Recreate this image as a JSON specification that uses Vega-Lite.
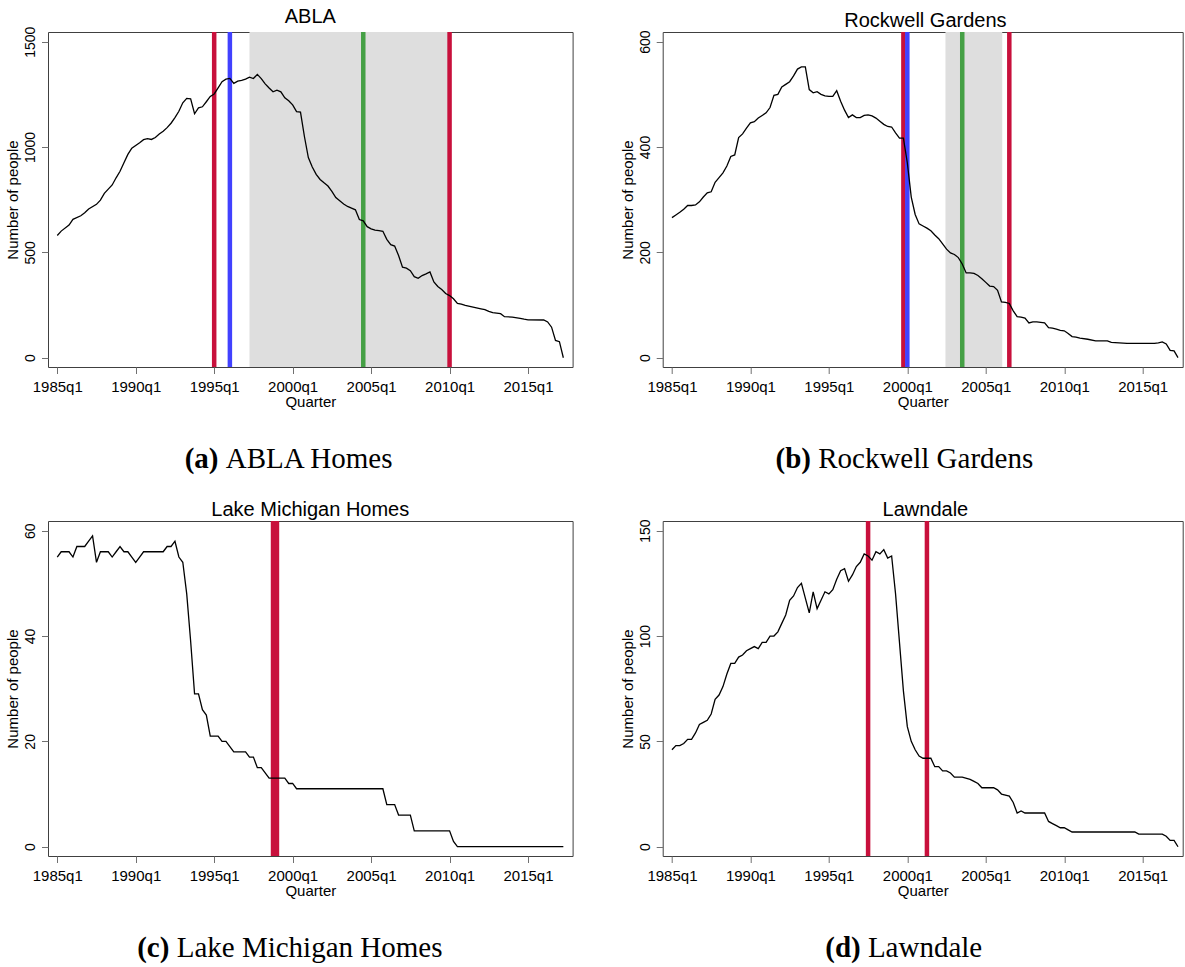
{
  "$schema": "https://vega.github.io/schema/vega-lite/v6.json",
  "background": "white",
  "padding": {"left": 5, "top": 6, "right": 0, "bottom": 0},
  "datasets": {
    "abla": [
      {"q": 1985.0, "n": 580}, {"q": 1985.25, "n": 601}, {"q": 1985.75, "n": 630}, {"q": 1986.0, "n": 657},
      {"q": 1986.5, "n": 674}, {"q": 1986.75, "n": 688}, {"q": 1987.0, "n": 706}, {"q": 1987.5, "n": 728},
      {"q": 1987.75, "n": 748}, {"q": 1988.0, "n": 780}, {"q": 1988.25, "n": 800}, {"q": 1988.5, "n": 820},
      {"q": 1988.75, "n": 854}, {"q": 1989.0, "n": 885}, {"q": 1989.25, "n": 925}, {"q": 1989.5, "n": 965},
      {"q": 1989.75, "n": 995}, {"q": 1990.25, "n": 1020}, {"q": 1990.5, "n": 1035}, {"q": 1990.75, "n": 1040},
      {"q": 1991.0, "n": 1036}, {"q": 1991.25, "n": 1045}, {"q": 1991.5, "n": 1062}, {"q": 1991.75, "n": 1075},
      {"q": 1992.0, "n": 1092}, {"q": 1992.25, "n": 1113}, {"q": 1992.5, "n": 1140}, {"q": 1992.75, "n": 1170},
      {"q": 1993.0, "n": 1210}, {"q": 1993.25, "n": 1231}, {"q": 1993.5, "n": 1229}, {"q": 1993.75, "n": 1158},
      {"q": 1994.0, "n": 1186}, {"q": 1994.25, "n": 1191}, {"q": 1994.5, "n": 1215}, {"q": 1994.75, "n": 1240},
      {"q": 1995.0, "n": 1252}, {"q": 1995.25, "n": 1281}, {"q": 1995.5, "n": 1310}, {"q": 1995.75, "n": 1322},
      {"q": 1996.0, "n": 1326}, {"q": 1996.25, "n": 1302}, {"q": 1996.5, "n": 1313}, {"q": 1996.75, "n": 1316},
      {"q": 1997.0, "n": 1322}, {"q": 1997.25, "n": 1332}, {"q": 1997.5, "n": 1325}, {"q": 1997.75, "n": 1345},
      {"q": 1998.0, "n": 1325}, {"q": 1998.25, "n": 1300}, {"q": 1998.5, "n": 1280}, {"q": 1998.75, "n": 1262},
      {"q": 1999.0, "n": 1270}, {"q": 1999.25, "n": 1262}, {"q": 1999.5, "n": 1234}, {"q": 1999.75, "n": 1220},
      {"q": 2000.0, "n": 1200}, {"q": 2000.25, "n": 1168}, {"q": 2000.5, "n": 1166}, {"q": 2000.75, "n": 1050},
      {"q": 2001.0, "n": 950}, {"q": 2001.25, "n": 905}, {"q": 2001.5, "n": 870}, {"q": 2001.75, "n": 846},
      {"q": 2002.0, "n": 830}, {"q": 2002.25, "n": 815}, {"q": 2002.5, "n": 790}, {"q": 2002.75, "n": 760},
      {"q": 2003.0, "n": 745}, {"q": 2003.25, "n": 730}, {"q": 2003.5, "n": 718}, {"q": 2003.75, "n": 710},
      {"q": 2004.0, "n": 702}, {"q": 2004.25, "n": 656}, {"q": 2004.5, "n": 650}, {"q": 2004.75, "n": 622},
      {"q": 2005.0, "n": 612}, {"q": 2005.25, "n": 606}, {"q": 2005.5, "n": 603}, {"q": 2005.75, "n": 600},
      {"q": 2006.0, "n": 562}, {"q": 2006.25, "n": 537}, {"q": 2006.5, "n": 530}, {"q": 2006.75, "n": 485},
      {"q": 2007.0, "n": 430}, {"q": 2007.25, "n": 425}, {"q": 2007.5, "n": 413}, {"q": 2007.75, "n": 385},
      {"q": 2008.0, "n": 377}, {"q": 2008.25, "n": 390}, {"q": 2008.5, "n": 398}, {"q": 2008.75, "n": 407},
      {"q": 2009.0, "n": 360}, {"q": 2009.25, "n": 338}, {"q": 2009.5, "n": 324}, {"q": 2009.75, "n": 305},
      {"q": 2010.0, "n": 295}, {"q": 2010.25, "n": 280}, {"q": 2010.5, "n": 258}, {"q": 2010.75, "n": 254},
      {"q": 2011.0, "n": 248}, {"q": 2011.5, "n": 240}, {"q": 2012.0, "n": 232}, {"q": 2012.25, "n": 228},
      {"q": 2012.5, "n": 220}, {"q": 2012.75, "n": 214}, {"q": 2013.0, "n": 212}, {"q": 2013.25, "n": 209},
      {"q": 2013.5, "n": 195}, {"q": 2014.0, "n": 193}, {"q": 2014.5, "n": 187}, {"q": 2014.75, "n": 183},
      {"q": 2015.0, "n": 180}, {"q": 2016.0, "n": 179}, {"q": 2016.25, "n": 170}, {"q": 2016.5, "n": 145},
      {"q": 2016.75, "n": 82}, {"q": 2017.0, "n": 76}, {"q": 2017.25, "n": 0}
    ],
    "ablaEvents": [
      {"q": 1995.0, "event": "red"}, {"q": 1996.0, "event": "blue"},
      {"q": 2004.5, "event": "green"}, {"q": 2010.0, "event": "red"}
    ],
    "ablaBand": [{"q": 1997.25, "q2": 2010.0}],
    "rockwell": [
      {"q": 1985.0, "n": 266}, {"q": 1985.25, "n": 271}, {"q": 1985.5, "n": 276}, {"q": 1985.75, "n": 282},
      {"q": 1986.0, "n": 289}, {"q": 1986.25, "n": 289}, {"q": 1986.5, "n": 290}, {"q": 1986.75, "n": 296},
      {"q": 1987.0, "n": 305}, {"q": 1987.25, "n": 313}, {"q": 1987.5, "n": 315}, {"q": 1987.75, "n": 333},
      {"q": 1988.0, "n": 342}, {"q": 1988.25, "n": 351}, {"q": 1988.5, "n": 364}, {"q": 1988.75, "n": 382},
      {"q": 1989.0, "n": 385}, {"q": 1989.25, "n": 418}, {"q": 1989.5, "n": 425}, {"q": 1989.75, "n": 436},
      {"q": 1990.0, "n": 446}, {"q": 1990.25, "n": 448}, {"q": 1990.5, "n": 455}, {"q": 1990.75, "n": 460},
      {"q": 1991.0, "n": 465}, {"q": 1991.25, "n": 475}, {"q": 1991.5, "n": 498}, {"q": 1991.75, "n": 500},
      {"q": 1992.0, "n": 514}, {"q": 1992.25, "n": 519}, {"q": 1992.5, "n": 524}, {"q": 1992.75, "n": 535},
      {"q": 1993.0, "n": 548}, {"q": 1993.25, "n": 552}, {"q": 1993.5, "n": 552}, {"q": 1993.75, "n": 509},
      {"q": 1994.0, "n": 503}, {"q": 1994.25, "n": 505}, {"q": 1994.5, "n": 500}, {"q": 1994.75, "n": 497},
      {"q": 1995.0, "n": 496}, {"q": 1995.25, "n": 496}, {"q": 1995.5, "n": 507}, {"q": 1995.75, "n": 487},
      {"q": 1996.0, "n": 470}, {"q": 1996.25, "n": 456}, {"q": 1996.5, "n": 461}, {"q": 1996.75, "n": 456},
      {"q": 1997.0, "n": 456}, {"q": 1997.25, "n": 460}, {"q": 1997.5, "n": 461}, {"q": 1997.75, "n": 459},
      {"q": 1998.0, "n": 455}, {"q": 1998.25, "n": 449}, {"q": 1998.5, "n": 443}, {"q": 1998.75, "n": 439},
      {"q": 1999.0, "n": 438}, {"q": 1999.25, "n": 427}, {"q": 1999.5, "n": 417}, {"q": 1999.75, "n": 417},
      {"q": 2000.0, "n": 370}, {"q": 2000.25, "n": 305}, {"q": 2000.5, "n": 272}, {"q": 2000.75, "n": 254},
      {"q": 2001.0, "n": 250}, {"q": 2001.25, "n": 246}, {"q": 2001.5, "n": 241}, {"q": 2001.75, "n": 233},
      {"q": 2002.0, "n": 226}, {"q": 2002.25, "n": 216}, {"q": 2002.5, "n": 206}, {"q": 2002.75, "n": 199},
      {"q": 2003.0, "n": 196}, {"q": 2003.25, "n": 190}, {"q": 2003.5, "n": 178}, {"q": 2003.75, "n": 161},
      {"q": 2004.0, "n": 161}, {"q": 2004.25, "n": 160}, {"q": 2004.5, "n": 156}, {"q": 2004.75, "n": 150},
      {"q": 2005.0, "n": 143}, {"q": 2005.25, "n": 136}, {"q": 2005.5, "n": 135}, {"q": 2005.75, "n": 128},
      {"q": 2006.0, "n": 106}, {"q": 2006.25, "n": 105}, {"q": 2006.5, "n": 103}, {"q": 2006.75, "n": 89},
      {"q": 2007.0, "n": 78}, {"q": 2007.25, "n": 77}, {"q": 2007.5, "n": 75}, {"q": 2007.75, "n": 66},
      {"q": 2008.0, "n": 68}, {"q": 2008.25, "n": 68}, {"q": 2008.5, "n": 67}, {"q": 2008.75, "n": 66},
      {"q": 2009.0, "n": 57}, {"q": 2009.25, "n": 56}, {"q": 2009.5, "n": 54}, {"q": 2009.75, "n": 52},
      {"q": 2010.0, "n": 51}, {"q": 2010.25, "n": 46}, {"q": 2010.5, "n": 40}, {"q": 2010.75, "n": 39},
      {"q": 2011.0, "n": 37}, {"q": 2011.5, "n": 35}, {"q": 2012.0, "n": 32}, {"q": 2012.75, "n": 32},
      {"q": 2013.0, "n": 29}, {"q": 2013.5, "n": 28}, {"q": 2014.0, "n": 27}, {"q": 2015.75, "n": 27},
      {"q": 2016.0, "n": 28}, {"q": 2016.25, "n": 30}, {"q": 2016.5, "n": 26}, {"q": 2016.75, "n": 14},
      {"q": 2017.0, "n": 13}, {"q": 2017.25, "n": 0}
    ],
    "rockwellEvents": [
      {"q": 1999.75, "event": "red"}, {"q": 2000.0, "event": "blue"},
      {"q": 2003.5, "event": "green"}, {"q": 2006.5, "event": "red"}
    ],
    "rockwellBand": [{"q": 2002.43, "q2": 2006.05}],
    "lakeMichigan": [
      {"q": 1985.0, "n": 55}, {"q": 1985.25, "n": 56}, {"q": 1985.5, "n": 56}, {"q": 1985.75, "n": 56},
      {"q": 1986.0, "n": 55}, {"q": 1986.25, "n": 57}, {"q": 1986.5, "n": 57}, {"q": 1986.75, "n": 57},
      {"q": 1987.0, "n": 58}, {"q": 1987.25, "n": 59}, {"q": 1987.5, "n": 54}, {"q": 1987.75, "n": 56},
      {"q": 1988.0, "n": 56}, {"q": 1988.25, "n": 56}, {"q": 1988.5, "n": 55}, {"q": 1988.75, "n": 56},
      {"q": 1989.0, "n": 57}, {"q": 1989.25, "n": 56}, {"q": 1989.5, "n": 56}, {"q": 1989.75, "n": 55},
      {"q": 1990.0, "n": 54}, {"q": 1990.25, "n": 55}, {"q": 1990.5, "n": 56}, {"q": 1991.75, "n": 56},
      {"q": 1992.0, "n": 57}, {"q": 1992.25, "n": 57}, {"q": 1992.5, "n": 58}, {"q": 1992.75, "n": 55},
      {"q": 1993.0, "n": 54}, {"q": 1993.25, "n": 48}, {"q": 1993.5, "n": 39}, {"q": 1993.75, "n": 29},
      {"q": 1994.0, "n": 29}, {"q": 1994.25, "n": 26}, {"q": 1994.5, "n": 25}, {"q": 1994.75, "n": 21},
      {"q": 1995.25, "n": 21}, {"q": 1995.5, "n": 20}, {"q": 1995.75, "n": 20}, {"q": 1996.0, "n": 19},
      {"q": 1996.25, "n": 18}, {"q": 1997.0, "n": 18}, {"q": 1997.25, "n": 17}, {"q": 1997.5, "n": 17},
      {"q": 1997.75, "n": 15}, {"q": 1998.0, "n": 15}, {"q": 1998.25, "n": 14}, {"q": 1998.5, "n": 13},
      {"q": 1999.5, "n": 13}, {"q": 1999.75, "n": 12}, {"q": 2000.0, "n": 12}, {"q": 2000.25, "n": 11},
      {"q": 2005.75, "n": 11}, {"q": 2006.0, "n": 8}, {"q": 2006.5, "n": 8}, {"q": 2006.75, "n": 6},
      {"q": 2007.5, "n": 6}, {"q": 2007.75, "n": 3}, {"q": 2010.0, "n": 3}, {"q": 2010.25, "n": 1},
      {"q": 2010.5, "n": 0}, {"q": 2017.25, "n": 0}
    ],
    "lakeMichiganEvents": [
      {"q": 1998.75, "event": "red"}, {"q": 1999.0, "event": "red"}
    ],
    "lawndale": [
      {"q": 1985.0, "n": 46}, {"q": 1985.25, "n": 48}, {"q": 1985.5, "n": 48}, {"q": 1985.75, "n": 49},
      {"q": 1986.0, "n": 51}, {"q": 1986.25, "n": 51}, {"q": 1986.5, "n": 54}, {"q": 1986.75, "n": 58},
      {"q": 1987.0, "n": 59}, {"q": 1987.25, "n": 60}, {"q": 1987.5, "n": 63}, {"q": 1987.75, "n": 70},
      {"q": 1988.0, "n": 72}, {"q": 1988.25, "n": 76}, {"q": 1988.5, "n": 82}, {"q": 1988.75, "n": 87},
      {"q": 1989.0, "n": 87}, {"q": 1989.25, "n": 90}, {"q": 1989.5, "n": 91}, {"q": 1989.75, "n": 93},
      {"q": 1990.0, "n": 94}, {"q": 1990.25, "n": 95}, {"q": 1990.5, "n": 94}, {"q": 1990.75, "n": 97},
      {"q": 1991.0, "n": 97}, {"q": 1991.25, "n": 100}, {"q": 1991.5, "n": 100}, {"q": 1991.75, "n": 102},
      {"q": 1992.0, "n": 106}, {"q": 1992.25, "n": 110}, {"q": 1992.5, "n": 117}, {"q": 1992.75, "n": 119},
      {"q": 1993.0, "n": 123}, {"q": 1993.25, "n": 125}, {"q": 1993.5, "n": 118}, {"q": 1993.75, "n": 111},
      {"q": 1994.0, "n": 121}, {"q": 1994.25, "n": 113}, {"q": 1994.5, "n": 117}, {"q": 1994.75, "n": 121},
      {"q": 1995.0, "n": 120}, {"q": 1995.25, "n": 122}, {"q": 1995.5, "n": 127}, {"q": 1995.75, "n": 131},
      {"q": 1996.0, "n": 132}, {"q": 1996.25, "n": 126}, {"q": 1996.5, "n": 129}, {"q": 1996.75, "n": 133},
      {"q": 1997.0, "n": 135}, {"q": 1997.25, "n": 139}, {"q": 1997.5, "n": 138}, {"q": 1997.75, "n": 136},
      {"q": 1998.0, "n": 140}, {"q": 1998.25, "n": 139}, {"q": 1998.5, "n": 141}, {"q": 1998.75, "n": 137},
      {"q": 1999.0, "n": 138}, {"q": 1999.25, "n": 120}, {"q": 1999.5, "n": 97}, {"q": 1999.75, "n": 74},
      {"q": 2000.0, "n": 57}, {"q": 2000.25, "n": 50}, {"q": 2000.5, "n": 46}, {"q": 2000.75, "n": 43},
      {"q": 2001.0, "n": 42}, {"q": 2001.25, "n": 42}, {"q": 2001.5, "n": 42}, {"q": 2001.75, "n": 38},
      {"q": 2002.0, "n": 38}, {"q": 2002.25, "n": 36}, {"q": 2002.5, "n": 36}, {"q": 2002.75, "n": 35},
      {"q": 2003.0, "n": 33}, {"q": 2003.5, "n": 33}, {"q": 2004.0, "n": 32}, {"q": 2004.25, "n": 31},
      {"q": 2004.5, "n": 30}, {"q": 2004.75, "n": 28}, {"q": 2005.5, "n": 28}, {"q": 2005.75, "n": 27},
      {"q": 2006.0, "n": 25}, {"q": 2006.5, "n": 24}, {"q": 2006.75, "n": 21}, {"q": 2007.0, "n": 16},
      {"q": 2007.25, "n": 17}, {"q": 2007.5, "n": 16}, {"q": 2008.75, "n": 16}, {"q": 2009.0, "n": 12},
      {"q": 2009.25, "n": 11}, {"q": 2009.5, "n": 10}, {"q": 2009.75, "n": 9}, {"q": 2010.0, "n": 9},
      {"q": 2010.25, "n": 8}, {"q": 2010.5, "n": 7}, {"q": 2014.5, "n": 7}, {"q": 2014.75, "n": 6},
      {"q": 2016.25, "n": 6}, {"q": 2016.5, "n": 5}, {"q": 2016.75, "n": 3}, {"q": 2017.0, "n": 3},
      {"q": 2017.25, "n": 0}
    ],
    "lawndaleEvents": [
      {"q": 1997.5, "event": "red"}, {"q": 2001.25, "event": "red"}
    ]
  },
  "hconcat": [
    {
      "spacing": 8,
      "vconcat": [
        {
          "width": 524.6, "height": 335,
          "title": "ABLA",
          "encoding": {
            "x": {"field": "q", "type": "quantitative", "title": "Quarter",
                  "scale": {"domain": [1984.41, 2017.84], "nice": false, "zero": false},
                  "axis": {"values": [1985, 1990, 1995, 2000, 2005, 2010, 2015], "labelExpr": "datum.value + 'q1'"}}
          },
          "layer": [
            {"data": {"name": "ablaBand"}, "mark": {"type": "rect", "color": "#dedede"}, "encoding": {"x2": {"field": "q2"}}},
            {"data": {"name": "ablaEvents"}, "mark": {"type": "rule", "strokeWidth": 4.5},
             "encoding": {"color": {"field": "event", "type": "nominal", "legend": null,
                                    "scale": {"domain": ["red", "blue", "green"], "range": ["#c8103c", "#4141ff", "#45a045"]}}}},
            {"data": {"name": "abla"}, "mark": {"type": "line", "color": "#000", "strokeWidth": 1.3},
             "encoding": {"y": {"field": "n", "type": "quantitative", "title": "Number of people",
                                "scale": {"domain": [-44, 1546], "nice": false, "zero": false},
                                "axis": {"values": [0, 500, 1000, 1500], "format": "d"}}}}
          ]
        },
        {
          "width": 520, "height": 72.3, "view": {"stroke": null},
          "data": {"values": [{"tag": "(a)", "name": "ABLA Homes"}]},
          "layer": [
            {"mark": {"type": "text", "font": "Liberation Serif", "fontSize": 29, "fontWeight": "bold", "align": "right", "baseline": "alphabetic", "x": 170.5, "y": 50.3, "color": "#000"},
             "encoding": {"text": {"field": "tag"}}},
            {"mark": {"type": "text", "font": "Liberation Serif", "fontSize": 29, "align": "left", "baseline": "alphabetic", "x": 177.7, "y": 50.3, "color": "#000"},
             "encoding": {"text": {"field": "name"}}}
          ]
        },
        {
          "width": 524.6, "height": 335,
          "title": "Lake Michigan Homes",
          "encoding": {
            "x": {"field": "q", "type": "quantitative", "title": "Quarter",
                  "scale": {"domain": [1984.41, 2017.84], "nice": false, "zero": false},
                  "axis": {"values": [1985, 1990, 1995, 2000, 2005, 2010, 2015], "labelExpr": "datum.value + 'q1'"}}
          },
          "layer": [
            {"data": {"name": "lakeMichiganEvents"}, "mark": {"type": "rule", "strokeWidth": 4.5},
             "encoding": {"color": {"field": "event", "type": "nominal", "legend": null,
                                    "scale": {"domain": ["red", "blue", "green"], "range": ["#c8103c", "#4141ff", "#45a045"]}}}},
            {"data": {"name": "lakeMichigan"}, "mark": {"type": "line", "color": "#000", "strokeWidth": 1.3},
             "encoding": {"y": {"field": "n", "type": "quantitative", "title": "Number of people",
                                "scale": {"domain": [-1.77, 61.84], "nice": false, "zero": false},
                                "axis": {"values": [0, 20, 40, 60], "format": "d"}}}}
          ]
        },
        {
          "width": 520, "height": 58, "view": {"stroke": null},
          "data": {"values": [{"tag": "(c)", "name": "Lake Michigan Homes"}]},
          "layer": [
            {"mark": {"type": "text", "font": "Liberation Serif", "fontSize": 29, "fontWeight": "bold", "align": "right", "baseline": "alphabetic", "x": 121.4, "y": 50.3, "color": "#000"},
             "encoding": {"text": {"field": "tag"}}},
            {"mark": {"type": "text", "font": "Liberation Serif", "fontSize": 29, "align": "left", "baseline": "alphabetic", "x": 128.7, "y": 50.3, "color": "#000"},
             "encoding": {"text": {"field": "name"}}}
          ]
        }
      ]
    },
    {
      "spacing": 8,
      "vconcat": [
        {
          "width": 520, "height": 335,
          "title": {"text": "Rockwell Gardens", "dx": 2.7},
          "encoding": {
            "x": {"field": "q", "type": "quantitative", "title": "Quarter",
                  "scale": {"domain": [1984.41, 2017.55], "nice": false, "zero": false},
                  "axis": {"values": [1985, 1990, 1995, 2000, 2005, 2010, 2015], "labelExpr": "datum.value + 'q1'"}}
          },
          "layer": [
            {"data": {"name": "rockwellBand"}, "mark": {"type": "rect", "color": "#dedede"}, "encoding": {"x2": {"field": "q2"}}},
            {"data": {"name": "rockwellEvents"}, "mark": {"type": "rule", "strokeWidth": 4.5},
             "encoding": {"color": {"field": "event", "type": "nominal", "legend": null,
                                    "scale": {"domain": ["red", "blue", "green"], "range": ["#c8103c", "#4141ff", "#45a045"]}}}},
            {"data": {"name": "rockwell"}, "mark": {"type": "line", "color": "#000", "strokeWidth": 1.3},
             "encoding": {"y": {"field": "n", "type": "quantitative", "title": "Number of people",
                                "scale": {"domain": [-17.7, 618.4], "nice": false, "zero": false},
                                "axis": {"values": [0, 200, 400, 600], "format": "d"}}}}
          ]
        },
        {
          "width": 520, "height": 72.3, "view": {"stroke": null},
          "data": {"values": [{"tag": "(b)", "name": "Rockwell Gardens"}]},
          "layer": [
            {"mark": {"type": "text", "font": "Liberation Serif", "fontSize": 29, "fontWeight": "bold", "align": "right", "baseline": "alphabetic", "x": 148.3, "y": 50.3, "color": "#000"},
             "encoding": {"text": {"field": "tag"}}},
            {"mark": {"type": "text", "font": "Liberation Serif", "fontSize": 29, "align": "left", "baseline": "alphabetic", "x": 155.5, "y": 50.3, "color": "#000"},
             "encoding": {"text": {"field": "name"}}}
          ]
        },
        {
          "width": 520, "height": 335,
          "title": {"text": "Lawndale", "dx": 2.7},
          "encoding": {
            "x": {"field": "q", "type": "quantitative", "title": "Quarter",
                  "scale": {"domain": [1984.41, 2017.55], "nice": false, "zero": false},
                  "axis": {"values": [1985, 1990, 1995, 2000, 2005, 2010, 2015], "labelExpr": "datum.value + 'q1'"}}
          },
          "layer": [
            {"data": {"name": "lawndaleEvents"}, "mark": {"type": "rule", "strokeWidth": 4.5},
             "encoding": {"color": {"field": "event", "type": "nominal", "legend": null,
                                    "scale": {"domain": ["red", "blue", "green"], "range": ["#c8103c", "#4141ff", "#45a045"]}}}},
            {"data": {"name": "lawndale"}, "mark": {"type": "line", "color": "#000", "strokeWidth": 1.3},
             "encoding": {"y": {"field": "n", "type": "quantitative", "title": "Number of people",
                                "scale": {"domain": [-4.4, 154.6], "nice": false, "zero": false},
                                "axis": {"values": [0, 50, 100, 150], "format": "d"}}}}
          ]
        },
        {
          "width": 520, "height": 58, "view": {"stroke": null},
          "data": {"values": [{"tag": "(d)", "name": "Lawndale"}]},
          "layer": [
            {"mark": {"type": "text", "font": "Liberation Serif", "fontSize": 29, "fontWeight": "bold", "align": "right", "baseline": "alphabetic", "x": 198, "y": 50.3, "color": "#000"},
             "encoding": {"text": {"field": "tag"}}},
            {"mark": {"type": "text", "font": "Liberation Serif", "fontSize": 29, "align": "left", "baseline": "alphabetic", "x": 205.2, "y": 50.3, "color": "#000"},
             "encoding": {"text": {"field": "name"}}}
          ]
        }
      ]
    }
  ],
  "spacing": 45.7,
  "config": {
    "font": "Liberation Sans",
    "view": {"stroke": "#404040", "strokeWidth": 1},
    "axis": {
      "domain": false, "grid": false, "tickColor": "#707070", "tickSize": 6.5, "tickWidth": 1,
      "labelFont": "Liberation Sans", "labelFontSize": 15, "labelColor": "#000", "labelFlush": false, "labelOverlap": false,
      "titleFont": "Liberation Sans", "titleFontSize": 15, "titleFontWeight": "normal", "titleColor": "#000"
    },
    "axisX": {"labelPadding": 5.5, "titlePadding": 0},
    "axisY": {"labelAngle": -90, "labelAlign": "center", "labelBaseline": "bottom", "labelFontSize": 14, "labelPadding": 4, "titlePadding": 3},
    "title": {"font": "Liberation Sans", "fontSize": 20, "fontWeight": "normal", "color": "#000", "offset": -1, "anchor": "middle", "frame": "group", "baseline": "alphabetic"}
  }
}
